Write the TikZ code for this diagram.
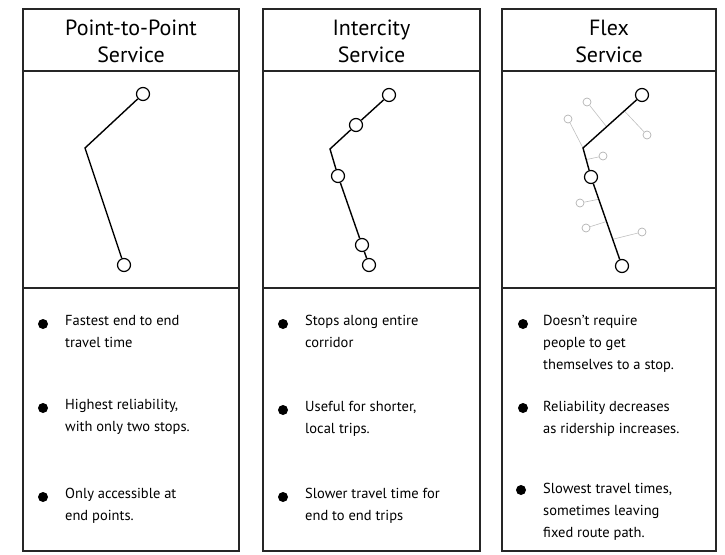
\documentclass[tikz,border=0pt]{standalone}
\usepackage{fontspec}
\setmainfont{PT Sans}
\usetikzlibrary{calc}

\begin{document}
\begin{tikzpicture}[
  x=1pt, y=-1pt,
  svcpanel/.style = {line width=1.5pt, draw=black!85},
  svchead/.style = {align=center, inner sep=0pt, font=\fontsize{22}{27}\selectfont},
  svcnote/.style = {anchor=north west, align=left, inner sep=0pt, font=\fontsize{14.5}{22}\selectfont},
  svcdot/.style = {circle, fill=black, inner sep=0pt, minimum size=10pt},
  svcstop/.style = {circle, draw, line width=1.2pt, fill=white, inner sep=0pt, minimum size=13pt},
  svcroute/.style = {line width=1.4pt},
  svcghost/.style = {circle, draw=black!30, line width=0.7pt, inner sep=0pt, minimum size=8pt},
  svcghostline/.style = {draw=black!25, line width=0.6pt}
]
  \useasboundingbox (0,0) rectangle (725,554);

  % Point-to-Point
  \begin{scope}[shift={(23,0)}]
    \draw[svcpanel] (0,9) rectangle (216,551);
    \draw[svcpanel] (0,71) -- (216,71);
    \draw[svcpanel] (0,288) -- (216,288);
    \node[svchead] (ptphead) at (108,41) {Point-to-Point\\Service};
    \node[svcstop] (ptpa) at (120,94) {};
    \coordinate (ptpbend) at (62,148);
    \node[svcstop] (ptpb) at (101,265) {};
    \draw[svcroute] (ptpa) -- (ptpbend) -- (ptpb);
    \node[svcdot] (ptpd1) at (20,324) {};
    \node[svcnote] (ptpn1) at (42,315) {Fastest end to end\\travel time};
    \node[svcdot] (ptpd2) at (20,408) {};
    \node[svcnote] (ptpn2) at (42,399) {Highest reliability,\\with only two stops.};
    \node[svcdot] (ptpd3) at (20,497) {};
    \node[svcnote] (ptpn3) at (42,488) {Only accessible at\\end points.};
  \end{scope}

  % Intercity
  \begin{scope}[shift={(263,0)}]
    \draw[svcpanel] (0,9) rectangle (217,551);
    \draw[svcpanel] (0,71) -- (217,71);
    \draw[svcpanel] (0,288) -- (217,288);
    \node[svchead] (ichead) at (108.5,41) {Intercity\\Service};
    \node[svcstop] (ica) at (126,95) {};
    \node[svcstop] (icb) at (93,125) {};
    \coordinate (icbend) at (67,149);
    \node[svcstop] (icc) at (75,176) {};
    \node[svcstop] (icd) at (99,245) {};
    \node[svcstop] (ice) at (106,265) {};
    \draw[svcroute] (ica) -- (icb) -- (icbend) -- (icc) -- (icd) -- (ice);
    \node[svcdot] (icd1) at (20,324) {};
    \node[svcnote] (icn1) at (42,315) {Stops along entire\\corridor};
    \node[svcdot] (icd2) at (20,410) {};
    \node[svcnote] (icn2) at (42,401) {Useful for shorter,\\local trips.};
    \node[svcdot] (icd3) at (20,497) {};
    \node[svcnote] (icn3) at (42,488) {Slower travel time for\\end to end trips};
  \end{scope}

  % Flex
  \begin{scope}[shift={(502,0)}]
    \draw[svcpanel] (0,9) rectangle (214,551);
    \draw[svcpanel] (0,71) -- (214,71);
    \draw[svcpanel] (0,288) -- (214,288);
    \node[svchead] (fxhead) at (107,41) {Flex\\Service};
    \node[svcstop] (fxa) at (140,95) {};
    \coordinate (fxbend) at (81,148);
    \node[svcstop] (fxb) at (89,177) {};
    \node[svcstop] (fxc) at (120,266) {};
    % faint deviations
    \node[svcghost] (fxg1) at (85,102) {};
    \node[svcghost] (fxg2) at (66,119) {};
    \node[svcghost] (fxg3) at (145,135) {};
    \node[svcghost] (fxg4) at (101,156) {};
    \node[svcghost] (fxg5) at (78,203) {};
    \node[svcghost] (fxg6) at (84,228) {};
    \node[svcghost] (fxg7) at (140,232) {};
    \draw[svcghostline] (fxg1) -- ($(fxa)!0.6!(fxbend)$);
    \draw[svcghostline] (fxg2) -- (fxbend);
    \draw[svcghostline] (fxg3) -- ($(fxa)!0.3!(fxbend)$);
    \draw[svcghostline] (fxg4) -- ($(fxbend)!0.4!(fxb)$);
    \draw[svcghostline] (fxg5) -- ($(fxb)!0.25!(fxc)$);
    \draw[svcghostline] (fxg6) -- ($(fxb)!0.5!(fxc)$);
    \draw[svcghostline] (fxg7) -- ($(fxb)!0.7!(fxc)$);
    \draw[svcroute] (fxa) -- (fxbend) -- (fxb) -- (fxc);
    \node[svcdot] (fxd1) at (21,324) {};
    \node[svcnote] (fxn1) at (41,315) {Doesn't require\\people to get\\themselves to a stop.};
    \node[svcdot] (fxd2) at (21,408) {};
    \node[svcnote] (fxn2) at (41,401) {Reliability decreases\\as ridership increases.};
    \node[svcdot] (fxd3) at (19,490) {};
    \node[svcnote] (fxn3) at (41,483) {Slowest travel times,\\sometimes leaving\\fixed route path.};
  \end{scope}
\end{tikzpicture}
\end{document}
